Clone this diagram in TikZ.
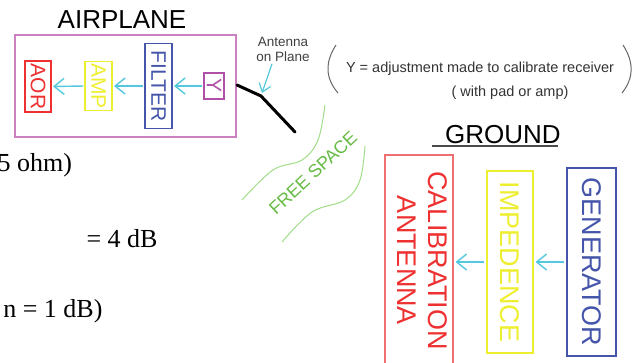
\documentclass[tikz,border=0pt]{standalone}
\usepackage{fontspec}
\setmainfont{Liberation Serif}
\setsansfont{Liberation Sans}
\usepackage{graphicx}
\usetikzlibrary{arrows.meta}
\definecolor{planepink}{HTML}{CC80C0}
\definecolor{yviolet}{HTML}{B050A8}
\definecolor{aorred}{HTML}{EE3030}
\definecolor{calred}{HTML}{EE7070}
\definecolor{ampyellow}{HTML}{EEEE30}
\definecolor{filtblue}{HTML}{4455AA}
\definecolor{sigcyan}{HTML}{55C8DD}
\definecolor{spacegreen}{HTML}{66BB44}
\definecolor{wavegreen}{HTML}{A0DD88}
\definecolor{parengray}{HTML}{666666}

\begin{document}
\begin{tikzpicture}[x=1pt, y=-1pt,
    box/.style={draw, line width=1.1pt, inner sep=0pt},
    sig/.style={draw=sigcyan, line width=1.4pt, -{Straight Barb[length=10pt,width=16pt]}},
    small/.style={font=\sffamily\fontsize{21}{24}\selectfont},
    big/.style={font=\sffamily\fontsize{27}{31}\selectfont},
    title/.style={font=\sffamily\fontsize{26}{30}\selectfont}]
  \useasboundingbox (0,0) rectangle (638,362);
  \clip (0,0) rectangle (638,362);

  % Airplane
  \node[title, anchor=base] (plane) at (122,28) {AIRPLANE};
  \node[box, draw=planepink, minimum width=221, minimum height=102] (planebox) at (125.5,86) {};
  \node[box, small, draw=aorred, text=aorred, minimum width=26, minimum height=51] (aor) at (38,86.5) {\rotatebox{-90}{AOR}};
  \node[box, small, draw=ampyellow, text=ampyellow, minimum width=27, minimum height=49] (amp) at (98.5,86) {\rotatebox{-90}{AMP}};
  \node[box, small, draw=filtblue, text=filtblue, minimum width=27, minimum height=85] (filter) at (158.5,86) {\rotatebox{-90}{FILTER}};
  \node[box, small, draw=yviolet, text=yviolet, minimum width=20, minimum height=26] (ybox) at (214,86) {\rotatebox{-90}{Y}};
  \foreach \a/\b in {ybox/filter,filter/amp,amp/aor}
    \draw[sig, shorten <=1pt, shorten >=1.5pt] (\a.west) -- (\b.east);

  % Antenna on the plane
  \coordinate (ant1) at (237,85);
  \coordinate (bend) at (261,96);
  \coordinate (ant2) at (295,132);
  \draw[line width=3pt, line cap=round] (ant1) -- (bend) -- (ant2);
  \node[font=\sffamily\fontsize{13.5}{15}\selectfont, align=center, text=black!75] (antlbl) at (283,49) {Antenna\\on Plane};
  \coordinate (anttip) at (262,93);
  \draw[sig, line width=1.2pt, -{Straight Barb[length=8pt,width=12pt]}] ([xshift=-11pt,yshift=1pt]antlbl.south) -- (anttip);

  % Note on Y
  \node[font=\sffamily\fontsize{14.5}{17}\selectfont, text=black!80, anchor=base] (note) at (480,72) {Y = adjustment made to calibrate receiver};
  \node[font=\sffamily\fontsize{14.5}{17}\selectfont, text=black!80, anchor=base] (note2) at (510,96) {( with pad or amp)};
  \draw[parengray, line width=1pt] (336,45) .. controls (325,62) and (325,78) .. (338,93);
  \draw[parengray, line width=1pt] (623,45) .. controls (634,62) and (634,78) .. (622,93);

  % Free space
  \draw[wavegreen, line width=1pt] plot[smooth, tension=0.6] coordinates {(325,105) (318,140) (302,160) (273,170) (242,200)};
  \draw[wavegreen, line width=1pt] plot[smooth, tension=0.6] coordinates {(365,146) (360,180) (345,200) (312,212) (282,242)};
  \node[font=\sffamily\fontsize{18}{20}\selectfont, text=spacegreen, rotate=43, inner sep=0pt] (space) at (313,173) {FREE SPACE};

  % Ground
  \node[title, anchor=base] (ground) at (503,143) {GROUND};
  \draw[black!70, line width=2.5pt] ([xshift=-10pt,yshift=-3pt]ground.base west) -- ([xshift=-6pt,yshift=-3pt]ground.base east);
  \node[box, big, draw=calred, text=aorred, minimum width=68, minimum height=211] (cal) at (419,260.5) {\rotatebox{-90}{\begin{tabular}{@{}c@{}}CALIBRATION\\ANTENNA\end{tabular}}};
  \node[box, big, draw=ampyellow, text=ampyellow, minimum width=46, minimum height=182] (imp) at (510,262) {\rotatebox{-90}{IMPEDENCE}};
  \node[box, big, draw=filtblue, text=filtblue, minimum width=49, minimum height=188] (gen) at (591.5,262) {\rotatebox{-90}{GENERATOR}};
  \foreach \a/\b in {gen/imp,imp/cal}
    \draw[sig, shorten <=2pt, shorten >=2pt] (\a.west) -- (\a.west -| \b.east);

  % Text of the page on the left
  \node[anchor=base west, font=\fontsize{26}{30}\selectfont] (ohm) at (-6,171) {5 ohm)};
  \node[anchor=base west, font=\fontsize{26}{30}\selectfont] (four) at (83,247) {= 4 dB};
  \node[anchor=base east, font=\fontsize{26}{30}\selectfont] (one) at (106,317) {n = 1 dB)};
\end{tikzpicture}
\end{document}
